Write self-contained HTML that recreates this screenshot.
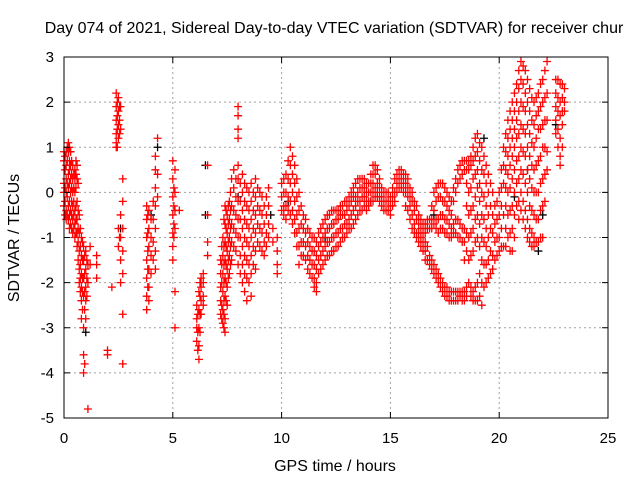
<!DOCTYPE html>
<html><head><meta charset="utf-8"><style>
body{margin:0;background:#fff;}
svg{display:block;font-family:"Liberation Sans",sans-serif;}
</style></head><body>
<svg id="chart" width="640" height="480">
<rect width="640" height="480" fill="#fff"/>
<text x="334" y="33" font-size="16" text-anchor="middle">Day 074 of 2021, Sidereal Day-to-day VTEC variation (SDTVAR) for receiver chur</text>
<g id="grid"></g>
<g id="marks"></g>
<rect x="64" y="57" width="544" height="361" fill="none" stroke="#000" stroke-width="1"/>
<g id="ticks"></g>
<text x="335" y="471" font-size="16" text-anchor="middle">GPS time / hours</text>
<text x="19" y="238" font-size="16" text-anchor="middle" transform="rotate(-90 19 238)">SDTVAR / TECUs</text>
</svg>
<script>
const xTicks=[0,5,10,15,20,25];
const yTicks=[3,2,1,0,-1,-2,-3,-4,-5];
const redCols=[
[0.0,[0.9,0.7,0.2,0.0,-0.3]],[0.05,[0.8,0.5,0.1,-0.2,-0.5]],[0.1,[0.9,0.6,0.3,0.0,-0.4,-0.6]],[0.15,[1.0,0.7,0.2,-0.1,-0.5]],[0.2,[1.1,0.9,0.4,0.1,-0.3,-0.6]],
[0.25,[1.0,0.7,0.5,0.2,-0.2,-0.5,-0.8]],[0.3,[0.9,0.6,0.3,0.0,-0.4,-0.7]],[0.35,[0.7,0.4,0.1,-0.2,-0.5,-0.8]],[0.4,[0.6,0.3,0.0,-0.3,-0.6,-0.9]],[0.45,[0.4,0.1,-0.2,-0.5,-0.8]],[0.5,[0.5,0.3,0.0,-0.4,-0.7,-1.0]],
[0.55,[0.7,0.4,0.1,-0.3,-0.6,-0.9]],[0.6,[0.6,0.3,-0.2,-0.6,-0.9,-1.2]],[0.65,[0.2,-0.4,-0.8,-1.1,-1.5]],[0.7,[-0.5,-0.9,-1.3,-1.7,-2.0]],[0.75,[-0.8,-1.2,-1.6,-1.9,-2.2]],[0.8,[-1.0,-1.4,-1.8,-2.1,-2.4,-2.8]],
[0.85,[-1.1,-1.5,-1.9,-2.2,-2.6]],[0.9,[-1.2,-1.5,-1.9,-2.3,-3.0,-3.6,-4.0]],[0.95,[-1.4,-1.8,-2.2,-2.6,-3.8]],[1.0,[-1.3,-1.7,-2.1,-2.4,-2.8]],[1.05,[-1.5,-1.9,-2.3]],[1.1,[-1.6,-2.0,-4.8]],
[1.2,[-1.2,-1.6]],[1.5,[-1.4,-1.6,-1.9]],[2.0,[-3.5,-3.6]],[2.2,[-2.1]],
[2.4,[2.2,1.9,1.6,1.3,1.1,1.0]],[2.45,[2.0,1.7,1.4,1.0]],[2.5,[2.1,1.8,1.5,1.2,-0.8,-1.2]],[2.55,[1.9,1.6,1.3,-1.0]],[2.6,[1.9,1.4,-0.5,-1.0,-1.5,-2.0]],
[2.7,[0.3,-0.2,-0.8,-1.3,-1.8,-2.7,-3.8]],
[3.8,[-0.3,-0.6,-1.0,-1.5,-1.9,-2.3,-2.6]],[3.85,[-0.5,-0.9,-1.3,-1.7,-2.1]],[3.9,[-0.4,-0.8,-1.2,-1.7,-2.1,-2.4]],[4.0,[-0.6,-1.0,-1.4,-1.8]],[4.1,[-0.2,-0.6,-1.1,-1.5]],
[4.2,[0.8,0.5,0.1,-0.3,-0.8,-1.3,-1.7]],[4.3,[1.2,0.4,-0.1]],
[5.0,[0.7,0.3,-0.1,-0.5,-0.9,-1.2,-1.5]],[5.05,[0.1,-0.3,-0.7,-1.0]],[5.1,[0.5,0.0,-0.4,-0.8,-2.2,-3.0]],[5.3,[-0.4]],
[6.1,[-2.5,-2.8,-3.0,-3.3]],[6.15,[-2.7,-3.1,-3.5]],[6.2,[-2.2,-2.6,-3.0,-3.4,-3.7]],[6.25,[-2.0,-2.3,-2.7,-3.1]],[6.3,[-1.9,-2.1,-2.4,-2.7]],[6.4,[-1.8,-2.0,-2.3,-2.5]],
[6.6,[0.6,-0.5,-1.1,-1.4]],
[7.2,[-1.5,-1.8,-2.1,-2.4,-2.7]],[7.25,[-1.2,-1.6,-2.0,-2.5,-2.8]],[7.3,[-1.0,-1.4,-1.8,-2.2,-2.6,-2.9]],[7.35,[-0.6,-1.2,-1.6,-2.0,-2.4,-2.7,-3.0]],[7.4,[-0.3,-0.7,-1.1,-1.5,-1.9,-2.3,-2.8,-3.1]],
[7.45,[-0.4,-0.8,-1.2,-1.6,-2.0,-2.4]],[7.5,[-0.5,-0.9,-1.3,-1.7,-2.1,-2.5]],[7.55,[-0.3,-0.7,-1.1,-1.5,-1.9]],[7.6,[-0.2,-0.6,-1.0,-1.4,-1.8]],[7.65,[0.0,-0.4,-0.8,-1.2,-1.6]],[7.7,[0.3,-0.3,-0.7,-1.1,-1.5]],
[7.8,[0.5,0.1,-0.4,-0.8,-1.2]],[7.9,[0.3,-0.1,-0.5,-0.9,-1.3]],[8.0,[1.9,1.7,1.4,1.2,0.6,0.3,-0.2,-0.6,-1.0,-1.6]],[8.1,[0.2,-0.2,-0.6,-1.0,-1.4,-1.8]],
[8.2,[0.4,0.0,-0.4,-0.8,-1.2,-1.6,-2.0]],[8.3,[0.2,-0.2,-0.6,-1.0,-1.4,-1.8,-2.2]],[8.4,[0.1,-0.3,-0.7,-1.1,-1.5,-1.9,-2.4]],[8.5,[0.0,-0.4,-0.8,-1.2,-1.6,-2.0]],
[8.6,[0.2,-0.2,-0.6,-1.0,-1.4,-1.8,-2.3]],[8.7,[0.0,-0.4,-0.8,-1.2,-1.6]],[8.8,[0.3,-0.1,-0.5,-0.9,-1.3,-1.7]],[8.9,[0.1,-0.3,-0.7,-1.1]],[9.0,[0.0,-0.4,-0.8,-1.2]],
[9.1,[-0.1,-0.5,-0.9,-1.3]],[9.2,[-0.3,-0.7,-1.1,-1.4]],[9.3,[-0.1,-0.5,-0.9,-1.2]],[9.4,[0.1,-0.3,-0.7,-1.0]],[9.6,[-0.8,-1.1]],[9.8,[-1.0,-1.3,-1.6,-1.8]],
[10.0,[0.2,-0.1,-0.4]],[10.1,[0.3,0.0,-0.3,-0.5]],[10.2,[0.4,0.0,-0.3,-0.6]],[10.3,[0.7,0.3,-0.1,-0.4]],[10.4,[1.0,0.6,0.2,-0.2,-0.5]],[10.5,[0.8,0.4,0.0,-0.4,-0.7]],[10.6,[0.6,0.2,-0.2,-0.6,-0.9]],
[10.7,[0.3,-0.1,-0.5,-0.9,-1.2]],[10.8,[0.0,-0.4,-0.8,-1.2,-1.6]],[10.9,[-0.3,-0.7,-1.1,-1.4]],
[11.0,[-0.5,-0.8,-1.1,-1.4]],[11.1,[-0.6,-0.9,-1.2,-1.5]],[11.2,[-0.8,-1.1,-1.4,-1.7]],[11.3,[-0.9,-1.2,-1.5,-1.8]],[11.4,[-1.0,-1.3,-1.6,-1.9]],[11.5,[-1.0,-1.3,-1.6,-1.9,-2.1]],[11.6,[-1.1,-1.4,-1.7,-2.0,-2.2]],
[11.7,[-0.9,-1.2,-1.5,-1.8]],[11.8,[-0.8,-1.1,-1.4,-1.7]],[11.9,[-0.7,-1.0,-1.3,-1.6]],[12.0,[-0.6,-0.9,-1.2,-1.5]],[12.1,[-0.5,-0.8,-1.1,-1.4]],[12.2,[-0.5,-0.8,-1.1,-1.4]],[12.3,[-0.4,-0.7,-1.0,-1.3]],[12.4,[-0.4,-0.7,-1.0,-1.3]],
[12.5,[-0.4,-0.6,-0.9,-1.2]],[12.6,[-0.4,-0.6,-0.9,-1.2]],[12.7,[-0.3,-0.5,-0.8,-1.1]],[12.8,[-0.3,-0.5,-0.8,-1.0]],[12.9,[-0.2,-0.5,-0.7,-1.0]],[13.0,[-0.2,-0.4,-0.7,-0.9]],[13.1,[-0.1,-0.3,-0.6,-0.8]],[13.2,[0.0,-0.2,-0.5,-0.8]],
[13.3,[0.1,-0.1,-0.4,-0.7]],[13.4,[0.2,-0.1,-0.3,-0.6]],[13.5,[0.3,0.0,-0.2,-0.5]],[13.6,[0.3,0.1,-0.2,-0.4]],[13.7,[0.3,0.1,-0.1,-0.4]],[13.8,[0.3,0.1,-0.1,-0.3]],[13.9,[0.2,0.0,-0.2,-0.4]],[14.0,[0.2,0.0,-0.2,-0.3]],
[14.1,[0.4,0.2,0.0,-0.2]],[14.2,[0.6,0.4,0.2,0.0,-0.2]],[14.3,[0.6,0.4,0.1,-0.1]],[14.4,[0.5,0.2,0.0,-0.1]],[14.5,[0.3,0.1,-0.1,-0.2]],[14.6,[0.1,-0.1,-0.3]],[14.7,[0.0,-0.2,-0.4]],[14.8,[0.0,-0.2,-0.4]],
[14.9,[0.0,-0.2,-0.4]],[15.0,[-0.1,-0.3,-0.5]],[15.1,[0.1,-0.1,-0.3]],[15.2,[0.3,0.0,-0.2]],[15.3,[0.4,0.2,0.0]],[15.4,[0.5,0.3,0.1]],[15.5,[0.5,0.3,0.1]],[15.6,[0.4,0.2,0.0]],[15.7,[0.4,0.2,0.0,-0.3]],[15.8,[0.3,0.1,-0.1,-0.4]],
[15.9,[0.1,-0.1,-0.3,-0.6]],[16.0,[0.0,-0.2,-0.5,-0.8]],[16.1,[-0.2,-0.4,-0.7,-0.9]],[16.2,[-0.3,-0.6,-0.9,-1.0]],[16.3,[-0.5,-0.7,-0.9,-1.1]],[16.4,[-0.6,-0.8,-1.0,-1.2]],[16.5,[-0.7,-0.9,-1.1,-1.3]],[16.6,[-0.7,-0.9,-1.1,-1.3,-1.5]],
[16.7,[-0.6,-0.8,-1.2,-1.5]],[16.8,[-0.6,-0.8,-1.4,-1.6]],[16.9,[-0.3,-0.6,-0.8,-1.5,-1.7]],[17.0,[0.0,-0.4,-0.7,-1.6,-1.8]],[17.1,[0.1,-0.2,-0.6,-0.8,-1.7,-1.9]],[17.2,[0.2,-0.1,-0.6,-0.9,-1.8,-2.0]],
[17.3,[0.2,-0.1,-0.5,-0.8,-1.9,-2.1]],[17.4,[0.2,-0.2,-0.5,-0.8,-2.0,-2.2]],[17.5,[0.1,-0.2,-0.6,-0.9,-2.1,-2.3]],[17.6,[0.0,-0.3,-0.6,-0.9,-2.1,-2.3]],[17.7,[-0.1,-0.4,-0.7,-1.0,-2.2,-2.4]],[17.8,[-0.2,-0.5,-0.8,-1.0,-2.2,-2.4]],
[17.9,[0.1,-0.2,-0.7,-0.9,-2.2,-2.4]],[18.0,[0.3,0.0,-0.6,-0.9,-2.2,-2.4]],[18.1,[0.5,0.2,-0.6,-1.0,-2.2,-2.4]],[18.2,[0.6,0.3,-0.7,-1.0,-2.2,-2.3]],[18.3,[0.7,0.4,-0.8,-1.1,-2.2,-2.4]],[18.4,[0.7,0.5,-0.8,-1.1,-1.5,-2.2,-2.4]],
[18.5,[0.7,0.5,0.2,-0.3,-0.9,-1.3,-2.1,-2.3]],[18.6,[0.7,0.5,0.0,-0.5,-1.0,-1.5,-2.0]],[18.7,[0.8,0.6,0.1,-0.4,-0.9,-1.4,-2.1,-2.3]],[18.8,[1.0,0.7,0.3,-0.3,-0.8,-1.3,-2.2,-2.4]],
[18.9,[1.2,0.8,0.4,-0.1,-0.6,-1.1,-2.1,-2.4]],[19.0,[1.3,0.9,0.5,0.1,-0.5,-1.0,-2.0,-2.4]],[19.1,[1.1,0.7,0.2,-0.2,-0.7,-1.2,-1.8,-2.3]],[19.2,[1.0,0.5,0.0,-0.5,-1.0,-1.5,-2.0,-2.5]],
[19.3,[0.8,0.4,-0.1,-0.6,-1.1,-1.6,-2.1]],[19.4,[0.6,0.2,-0.3,-0.8,-1.2,-1.6,-2.0]],[19.5,[0.4,0.0,-0.5,-1.0,-1.5,-1.9]],[19.6,[0.2,-0.3,-0.8,-1.3,-1.8]],[19.7,[0.0,-0.5,-0.9,-1.4,-1.7]],[19.8,[-0.3,-0.7,-1.1,-1.5]],
[19.9,[-0.2,-0.6,-1.0,-1.4]],[20.0,[0.0,-0.5,-1.0,-1.3]],[20.1,[0.5,0.1,-0.3,-0.8,-1.2]],[20.2,[1.0,0.6,0.2,-0.5,-1.2]],[20.3,[1.3,0.9,0.5,0.1,-0.3,-0.8,-1.2]],[20.4,[1.6,1.2,0.8,0.4,0.0,-0.5,-1.0]],
[20.5,[1.8,1.4,1.0,0.6,0.1,-0.4,-0.9,-1.3]],[20.6,[2.0,1.6,1.2,0.8,0.3,-0.3,-0.8,-1.3]],[20.7,[2.2,1.8,1.4,1.0,0.5,0.0,-0.5,-1.0]],[20.8,[2.4,2.0,1.6,1.2,0.7,0.2,-0.3]],
[20.9,[2.7,2.3,1.8,1.3,0.8,0.3,-0.2,-0.6]],[21.0,[2.9,2.5,2.0,1.5,1.0,0.5,0.0,-0.4]],[21.1,[2.8,2.4,1.9,1.4,0.9,0.4,-0.2,-0.6]],[21.2,[2.7,2.2,1.8,1.3,0.8,0.2,-0.4,-0.8]],
[21.3,[2.5,2.0,1.5,1.0,0.5,0.0,-0.6,-1.0]],[21.4,[2.3,1.8,1.3,0.8,0.3,-0.3,-0.8,-1.1]],[21.5,[2.1,1.6,1.1,0.6,0.1,-0.4,-0.9,-1.2]],[21.6,[2.0,1.5,1.0,0.5,0.0,-0.5,-1.0,-1.2]],
[21.7,[2.1,1.7,1.2,0.6,0.0,-0.6,-1.1]],[21.8,[2.2,1.8,1.4,0.7,0.0,-0.6,-1.1]],[21.9,[2.4,1.9,1.4,0.8,0.2,-0.4,-1.0]],[22.0,[2.5,2.0,1.5,1.0,0.3,-0.3,-1.0]],[22.1,[2.7,2.1,1.6,1.0,0.4,-0.2]],[22.2,[2.9,2.2,1.6,0.9,0.5]],
[22.6,[2.5,2.2,1.9,1.6,1.3]],[22.7,[2.5,2.1,1.8,1.4,1.0]],[22.8,[2.4,2.0,1.7,1.2,0.8,0.6]],[22.9,[2.4,2.1,1.8,1.5,1.0]],[23.0,[2.3,2.0,1.8]]
];
const blackT=[0.3,0.9,1.0,2.6,4.0,4.3,6.5,6.5,8.0,9.5,10.3,12.0,14.1,17.0,19.3,20.7,21.3,21.8,22.0,22.6];
const blackV=[0.9,-1.9,-3.1,-0.8,-0.5,1.0,0.6,-0.5,-0.1,-0.5,-0.2,-1.0,-0.2,-0.5,1.2,-0.1,0.5,-1.3,-0.5,1.5];

const X0=64,X1=608,Y0=418,Y1=57;
const xs=t=>X0+(t-0)/(25-0)*(X1-X0);
const ys=v=>Y0-(v+5)/(3+5)*(Y0-Y1);
const NS="http://www.w3.org/2000/svg";
const grid=document.getElementById('grid'),ticks=document.getElementById('ticks'),marks=document.getElementById('marks');
function mk(tag,attrs,parent){const e=document.createElementNS(NS,tag);for(const k in attrs)e.setAttribute(k,attrs[k]);parent.appendChild(e);return e;}
xTicks.forEach(t=>{
  const x=xs(t);
  if(t>0&&t<25){const g=mk('line',{x1:x,x2:x,y1:Y1,y2:Y0,stroke:'#a0a0a0','stroke-dasharray':'2,3'},grid);
  
  }
  mk('line',{x1:x,x2:x,y1:Y0,y2:Y0-6,stroke:'#000'},ticks);
  mk('line',{x1:x,x2:x,y1:Y1,y2:Y1+6,stroke:'#000'},ticks);
  const l=mk('text',{x:x,y:Y0+25,'font-size':15,'text-anchor':'middle'},ticks);l.textContent=t;
  
  
});
yTicks.forEach(v=>{
  const y=ys(v);
  if(v<3&&v>-5){const g=mk('line',{x1:X0,x2:X1,y1:y,y2:y,stroke:'#a0a0a0','stroke-dasharray':'2,3'},grid);
  
  }
  mk('line',{x1:X0,x2:X0+6,y1:y,y2:y,stroke:'#000'},ticks);
  mk('line',{x1:X1,x2:X1-6,y1:y,y2:y,stroke:'#000'},ticks);
  const l=mk('text',{x:X0-10,y:y+5,'font-size':15,'text-anchor':'end'},ticks);l.textContent=v;
  
  
});
function plus(t,v,color,name){
  const x=xs(t),y=ys(v);
  const p=mk('path',{d:`M${x-4},${y}H${x+4}M${x},${y-4}V${y+4}`,stroke:color,'stroke-width':1.3,fill:'none'},marks);
  
  
}
blackT.forEach((t,i)=>plus(t,blackV[i],'#000','black-point'));
redCols.forEach(c=>c[1].forEach(v=>plus(c[0],v,'#ff0000','red-point')));
</script>
</body></html>
